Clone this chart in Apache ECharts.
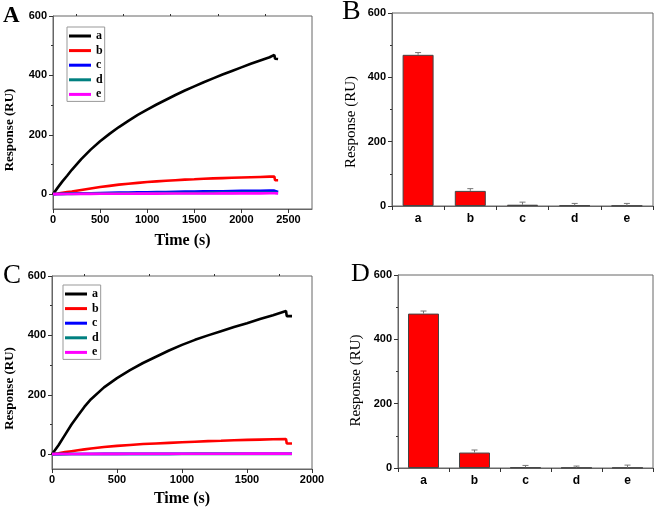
<!DOCTYPE html>
<html><head><meta charset="utf-8">
<script src="https://cdn.jsdelivr.net/npm/echarts@6/dist/echarts.min.js"></script>
<style>html,body{margin:0;padding:0;background:#fff}#c{width:660px;height:512px}</style>
</head><body><div id="c"></div>
<script>
// ---- data ----
const seriesNames = ['a', 'b', 'c', 'd', 'e'];
const lineColors = ['#000000', '#ff0000', '#0000ff', '#008080', '#ff00ff'];

// Panel A (time in s, response in RU)
const timeA = [0, 50, 100, 150, 200, 300, 400, 500, 600, 700, 800, 900, 1000, 1100, 1200, 1300, 1400, 1500, 1600, 1700, 1800, 1900, 2000, 2100, 2200, 2300, 2350, 2358, 2390];
const aA = [0, 22, 43, 62, 82, 118, 150, 178, 203, 226, 247, 267, 285, 302, 318, 334, 349, 363, 377, 390, 403, 415, 427, 439, 450, 461, 469, 456, 455];
const bA = [0, 2, 5, 7, 9, 14, 19, 24, 28, 32, 35, 38, 41, 43, 45, 47, 49, 50, 52, 53, 54, 55, 56, 57, 58, 59, 59, 47, 47];
const cA = [0, 0.5, 1, 1.5, 2, 2.5, 3, 4, 4.5, 5, 5.5, 6, 6.5, 7, 7.5, 8, 8.5, 9, 9.5, 10, 10, 10.5, 11, 11, 11.5, 12, 12, 8, 7];
const dA = [0, 0.3, 0.6, 0.9, 1.1, 1.5, 1.8, 2.1, 2.4, 2.6, 2.8, 3, 3.2, 3.4, 3.5, 3.7, 3.8, 4, 4.1, 4.2, 4.3, 4.4, 4.5, 4.6, 4.7, 4.8, 4.8, 4, 4];
const eA = [0, 0.2, 0.4, 0.6, 0.7, 0.9, 1.1, 1.3, 1.4, 1.5, 1.6, 1.7, 1.8, 1.9, 2, 2.1, 2.2, 2.3, 2.3, 2.4, 2.5, 2.5, 2.6, 2.6, 2.7, 2.8, 2.8, 2.5, 2.5];

// Panel C
const timeC = [0, 15, 50, 100, 150, 200, 250, 300, 400, 500, 600, 700, 800, 900, 1000, 1100, 1200, 1300, 1400, 1500, 1600, 1700, 1800, 1806, 1846];
const aC = [0, 0, 30, 65, 100, 130, 160, 185, 225, 256, 283, 307, 328, 349, 368, 385, 400, 414, 428, 441, 455, 468, 482, 465, 465];
const bC = [0, 0, 3, 7, 10, 13, 16, 19, 24, 28, 31, 34, 36, 38, 40, 42, 44, 45, 47, 48, 49, 50, 51, 36, 36];
const cC = [0, 0, 0.2, 0.3, 0.4, 0.5, 0.6, 0.7, 0.8, 0.9, 1, 1, 1.1, 1.1, 1.2, 1.2, 1.3, 1.3, 1.4, 1.4, 1.5, 1.5, 1.5, 1.2, 1.2];
const dC = [0, 0, 0.1, 0.2, 0.3, 0.3, 0.4, 0.4, 0.5, 0.5, 0.6, 0.6, 0.7, 0.7, 0.7, 0.8, 0.8, 0.8, 0.9, 0.9, 0.9, 1, 1, 0.8, 0.8];
const eC = [0, 0, 0.3, 0.5, 0.6, 0.7, 0.8, 0.9, 1, 1.1, 1.2, 1.3, 1.3, 1.4, 1.4, 1.5, 1.5, 1.6, 1.6, 1.7, 1.7, 1.8, 1.8, 1.5, 1.5];

// Panels B and D (bars with error)
const barValsB = [470, 47, 4, 2, 1];
const barErrB = [7, 7, 8, 6, 7];
const barValsD = [480, 48, 2, 1, 1];
const barErrD = [8, 8, 6, 5, 8];

// tick labels
const yTickVals = [0, 200, 400, 600];
const yMinorVals = [100, 300, 500];
const xTickValsA = [0, 500, 1000, 1500, 2000, 2500];
const xMinorValsA = [250, 750, 1250, 1750, 2250];
const xTickValsC = [0, 500, 1000, 1500, 2000];
const xMinorValsC = [250, 750, 1250, 1750];

// ---- chart ----
const SANS = 'Liberation Sans';
const SERIF = 'Liberation Serif';
const AX = '#666';
const tickLabel = { fontFamily: SANS, fontWeight: 'bold', fontSize: 11, color: '#000' };

function mainValueAxis(gridIndex, min, max, ticks, isX, extra) {
  return Object.assign({
    type: 'value', gridIndex, min, max,
    axisLine: { show: true, onZero: false, lineStyle: { color: AX, width: 1 } },
    axisTick: { show: true, inside: false, length: 4, lineStyle: { color: '#333' }, customValues: ticks },
    axisLabel: Object.assign({ customValues: ticks, margin: isX ? 5 : 6, formatter: v => String(v) }, tickLabel),
    splitLine: { show: false }
  }, extra || {});
}
function minorValueAxis(gridIndex, min, max, ticks) {
  return {
    type: 'value', gridIndex, min, max,
    axisLine: { show: false, onZero: false },
    axisTick: { show: true, length: 2, lineStyle: { color: '#333' }, customValues: ticks },
    axisLabel: { show: false },
    splitLine: { show: false }
  };
}
function catAxis(gridIndex) {
  return {
    type: 'category', gridIndex, data: seriesNames,
    axisLine: { show: true, lineStyle: { color: AX } },
    axisTick: { show: true, length: 4, lineStyle: { color: '#333' } },
    axisLabel: Object.assign({ margin: 7 }, tickLabel, { fontSize: 12 }),
    splitLine: { show: false }
  };
}

function lineSeries(names, time, arrays, xi, yi) {
  return arrays.map((arr, k) => ({
    type: 'line', name: names[k], xAxisIndex: xi, yAxisIndex: yi,
    data: time.map((t, i) => [t, arr[i]]),
    showSymbol: false, symbol: 'none', animation: false,
    lineStyle: { color: lineColors[k], width: 2.6 },
    itemStyle: { color: lineColors[k] },
    z: 3 + k
  }));
}

function errRender(params, api) {
  const x = api.value(0);
  const lo = api.coord([x, api.value(1)]);
  const hi = api.coord([x, api.value(2)]);
  const w = 3;
  const st = { stroke: '#777', lineWidth: 1 };
  return {
    type: 'group', children: [
      { type: 'line', shape: { x1: lo[0], y1: lo[1], x2: hi[0], y2: hi[1] }, style: st },
      { type: 'line', shape: { x1: hi[0] - w, y1: hi[1], x2: hi[0] + w, y2: hi[1] }, style: st }
    ]
  };
}
function barSeries(vals, errs, xi, yi, id) {
  return [
    {
      type: 'bar', name: 'bar' + id, xAxisIndex: xi, yAxisIndex: yi, data: vals, barWidth: 31,
      itemStyle: { color: '#ff0000', borderColor: '#444', borderWidth: 1 }, animation: false, z: 2
    },
    {
      type: 'custom', name: 'err' + id, xAxisIndex: xi, yAxisIndex: yi, renderItem: errRender,
      encode: { x: 0, y: [1, 2] }, data: vals.map((v, i) => [i, v, v + errs[i]]), animation: false, z: 3
    }
  ];
}

function legendAt(left, top) {
  return {
    left, top, orient: 'vertical', data: seriesNames, icon: 'rect',
    itemWidth: 22, itemHeight: 3, itemGap: 2.6, padding: [3, 2, 1, 2],
    borderColor: '#999', borderWidth: 1, selectedMode: false,
    textStyle: { fontFamily: SERIF, fontWeight: 'bold', fontSize: 12, lineHeight: 12, color: '#000' }
  };
}

const xName = (gap) => ({
  name: 'Time (s)', nameLocation: 'middle', nameGap: gap,
  nameTextStyle: { fontFamily: SERIF, fontWeight: 'bold', fontSize: 16, color: '#000' }
});

const option = {
  backgroundColor: '#fff',
  animation: false,
  grid: [
    { left: 53, top: 16, width: 259, height: 193, show: true, borderColor: AX, borderWidth: 1 },
    { left: 392, top: 13, width: 261, height: 193, show: true, borderColor: AX, borderWidth: 1 },
    { left: 52, top: 276, width: 260, height: 193, show: true, borderColor: AX, borderWidth: 1 },
    { left: 398, top: 275, width: 255, height: 193, show: true, borderColor: AX, borderWidth: 1 }
  ],
  xAxis: [
    mainValueAxis(0, 0, 2750, xTickValsA, true, xName(24)),
    minorValueAxis(0, 0, 2750, xMinorValsA),
    catAxis(1),
    mainValueAxis(2, 0, 2000, xTickValsC, true, xName(22)),
    minorValueAxis(2, 0, 2000, xMinorValsC),
    catAxis(3)
  ],
  yAxis: [
    mainValueAxis(0, -50, 600, yTickVals, false),
    minorValueAxis(0, -50, 600, yMinorVals),
    mainValueAxis(1, 0, 600, yTickVals, false),
    minorValueAxis(1, 0, 600, yMinorVals),
    mainValueAxis(2, -50, 600, yTickVals, false),
    minorValueAxis(2, -50, 600, yMinorVals),
    mainValueAxis(3, 0, 600, yTickVals, false),
    minorValueAxis(3, 0, 600, yMinorVals)
  ].map(a => Object.assign(a, { position: 'left' })),
  legend: [legendAt(67, 27), legendAt(63, 285)],
  series: [].concat(
    lineSeries(seriesNames, timeA, [aA, bA, cA, dA, eA], 0, 0),
    barSeries(barValsB, barErrB, 2, 2, 'B'),
    lineSeries(seriesNames, timeC, [aC, bC, cC, dC, eC], 3, 4),
    barSeries(barValsD, barErrD, 5, 6, 'D')
  ),
  graphic: [
    { type: 'text', left: 3, top: 5, style: { text: 'A', font: 'bold 23px "Liberation Serif"', fill: '#000' } },
    { type: 'text', left: 342, top: -2, style: { text: 'B', font: '28px "Liberation Serif"', fill: '#000' } },
    { type: 'text', left: 3, top: 262, style: { text: 'C', font: '27px "Liberation Serif"', fill: '#000' } },
    { type: 'text', left: 351, top: 261, style: { text: 'D', font: '26px "Liberation Serif"', fill: '#000' } },
    { type: 'text', x: 9.5, y: 130, rotation: Math.PI / 2, style: { text: 'Response (RU)', font: 'bold 13px "Liberation Serif"', fill: '#000', align: 'center', verticalAlign: 'middle' } },
    { type: 'text', x: 351, y: 122, rotation: Math.PI / 2, style: { text: 'Response (RU)', font: '15px "Liberation Serif"', fill: '#000', align: 'center', verticalAlign: 'middle' } },
    { type: 'text', x: 9.5, y: 388.5, rotation: Math.PI / 2, style: { text: 'Response (RU)', font: 'bold 13px "Liberation Serif"', fill: '#000', align: 'center', verticalAlign: 'middle' } },
    { type: 'text', x: 356, y: 380.5, rotation: Math.PI / 2, style: { text: 'Response (RU)', font: '15px "Liberation Serif"', fill: '#000', align: 'center', verticalAlign: 'middle' } }
  ]
};

const chart = echarts.init(document.getElementById('c'), null, { renderer: 'canvas' });
chart.setOption(option);
</script>
</body></html>
